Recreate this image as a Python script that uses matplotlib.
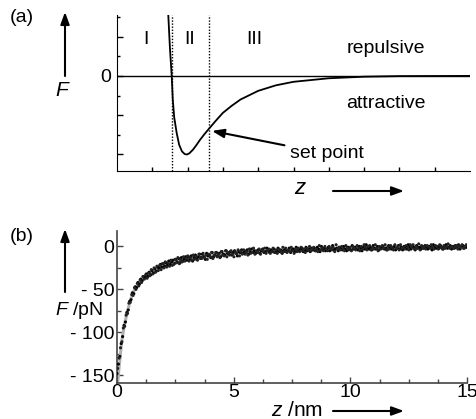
import numpy as np
from matplotlib import pyplot as plt
from matplotlib.ticker import FixedLocator, MultipleLocator

plt.rcParams['font.family'] = ['Liberation Sans', 'DejaVu Sans']
plt.rcParams['mathtext.fontset'] = 'custom'
plt.rcParams['mathtext.rm'] = 'Liberation Sans'
plt.rcParams['mathtext.it'] = 'Liberation Sans:italic'

# panel (a): schematic force-distance curve (arbitrary units)
z_a = [1.40, 1.45, 1.50, 1.55, 1.58, 1.62, 1.69, 1.76, 1.84, 1.92, 1.98,
       2.05, 2.15, 2.25, 2.35, 2.47, 2.60, 2.80, 3.00, 3.25, 3.50, 4.00,
       4.50, 5.00, 6.00, 7.00, 8.00, 10.0]
F_a = [3.0, 1.6, 0.7, 0.0, -0.6, -1.05, -1.45, -1.75, -1.92, -1.99, -2.0,
       -1.97, -1.88, -1.76, -1.63, -1.49, -1.35, -1.14, -0.94, -0.76, -0.60,
       -0.38, -0.24, -0.15, -0.06, -0.02, -0.005, 0.0]
regions = ["I", "II", "III"]
region_x = [0.82, 2.07, 3.88]
bounds = [1.56, 2.61]
set_point = (2.69, -1.40)

# panel (b): measured force (pN) vs distance (nm), two interleaved sweeps
F_b = [
    -148, -137, -128, -113, -105, -92, -88, -77, -74, -64,
    -62, -54, -55, -47, -48, -42, -44, -38, -40, -35,
    -36, -32, -35, -30, -33, -28, -31, -26, -29, -24,
    -25, -21, -24, -20, -23, -19, -22, -17, -21, -18,
    -16, -20, -15, -18, -14, -19, -13, -17, -15, -12,
    -16, -12, -15, -11, -17, -13, -10, -14, -12, -9,
    -13, -9, -12, -15, -8, -11, -10, -13, -7, -12,
    -10, -7, -11, -8, -12, -6, -9, -10, -5, -8,
    -9, -6, -10, -7, -5, -8, -11, -6, -7, -4,
    -8, -5, -7, -4, -9, -6, -3, -7, -5, -8,
    -6, -4, -8, -5, -3, -7, -6, -2, -5, -7,
    -4, -6, -3, -7, -5, -2, -6, -4, -8, -5,
    -3, -6, -5, -2, -7, -4, -3, -6, -1, -5,
    -5, -3, -2, -6, -4, -1, -5, -3, -6, -2,
    -4, -2, -5, -1, -3, -6, 0, -4, -2, -5,
    -3, -1, -5, -2, 1, -4, -3, -2, -5, -1,
    -2, -4, 0, -3, -5, -1, -2, -4, 1, -3,
    -1, -3, -4, 0, -2, -5, -1, -3, 2, -2,
    -3, -1, -4, 1, -2, -3, 0, -4, -1, -2,
    0, -3, -2, -4, 1, -1, -3, -2, 0, -4,
    -2, 1, -3, -1, -4, 0, -2, -3, 2, -1,
    -3, 0, -1, -4, 1, -2, -1, -3, 0, -2,
    1, -2, -3, 0, -1, -4, 2, -1, -2, 0,
    -2, 1, -1, -3, 0, 2, -2, -1, 1, -3,
    0, -2, 1, -1, 2, -3, 0, 1, -2, 0,
    -1,
]
F_b2 = [
    -142, -130, -118, -111, -95, -93, -80, -78, -66, -65,
    -56, -57, -48, -50, -43, -46, -39, -42, -35, -38,
    -33, -37, -31, -34, -27, -32, -25, -30, -23, -28,
    -22, -27, -20, -25, -18, -24, -19, -23, -16, -22,
    -21, -15, -19, -13, -20, -16, -18, -12, -17, -14,
    -11, -17, -13, -16, -10, -15, -12, -16, -9, -14,
    -14, -8, -13, -10, -15, -9, -12, -7, -14, -10,
    -7, -12, -9, -13, -6, -10, -11, -5, -12, -7,
    -10, -5, -9, -12, -6, -8, -4, -11, -6, -9,
    -4, -9, -6, -10, -3, -8, -7, -2, -9, -5,
    -7, -3, -9, -4, -6, -2, -8, -5, -3, -8,
    -6, -2, -7, -4, -8, -3, -5, -7, -1, -6,
    -2, -7, -4, -6, -1, -5, -8, -3, -6, -2,
    -6, -1, -5, -3, -7, -2, -4, 0, -5, -3,
    -1, -5, -3, -6, 1, -4, -2, -5, 0, -3,
    -5, 0, -2, -4, -1, -6, 2, -3, -1, -4,
    0, -3, -5, 1, -2, -4, -1, -5, 0, -2,
    -4, 1, -2, -5, 0, -3, 2, -1, -4, 0,
    1, -4, -1, -3, 2, -2, -5, 0, -3, 1,
    -2, 2, -4, 0, -3, 1, -1, -4, 2, -2,
    0, -4, 2, -2, -1, -3, 1, -1, -4, 2,
    -1, 2, -3, 0, -2, 3, -4, 1, -2, 0,
    -3, 1, 0, -2, 2, -1, -3, 1, 0, -3,
    2, -1, -3, 1, -2, 0, 3, -2, 0, -1,
    -2, 1, 0, -3, 1, -1, 2, -2, 0, 2,
]
z_b = np.linspace(0, 15, len(F_b))
z_b2 = np.linspace(0.03, 14.97, len(F_b2))
z_fit = [0.03, 0.1, 0.2, 0.3, 0.41, 0.55, 0.7, 0.9, 1.13, 1.5, 2.0, 2.5,
         3.0, 4.0, 5.0, 6.0, 8.0, 10.0, 12.0, 15.0]
F_fit = [-158, -138, -111, -94, -80, -65, -53, -44, -37, -29, -22, -18,
         -14.5, -10.5, -8, -6.2, -4.2, -3, -2.2, -1.5]

W, H = 477, 419
FS = 14


def px(x, y):
    return x / W, 1 - y / H


fig = plt.figure(figsize=(W / 100, H / 100), dpi=100)
arrow_kw = dict(arrowstyle="-|>,head_length=0.6,head_width=0.22", color="black",
                lw=1.5, mutation_scale=12, shrinkA=0, shrinkB=0)

# ---- (a)
ax1 = fig.add_axes([117 / W, 1 - 171 / H, 353 / W, 156 / H])
ax1.plot(z_a, F_a, color="black", lw=1.3)
ax1.axhline(0, color="black", lw=1)
for b in bounds:
    ax1.axvline(b, color="black", lw=1, ls=(0, (1, 1.2)))
ax1.set_xlim(0, 10)
ax1.set_ylim(-2.42, 1.55)
for s in ("top", "right"):
    ax1.spines[s].set_visible(False)
ax1.set_xticks(range(1, 10))
ax1.set_xticklabels([])
ax1.set_yticks([-2, -1, 0, 1])
ax1.set_yticklabels(["", "", "0", ""], fontsize=FS)
ax1.yaxis.set_minor_locator(FixedLocator([-1.5, -0.5, 0.5, 1.5]))
ax1.tick_params(direction="in", length=4, width=1, pad=4)
ax1.tick_params(which="minor", direction="in", length=2.5, width=1)
ax1.tick_params(axis="x", length=3)

for lab, x in zip(regions, region_x):
    ax1.text(x, 0.92, lab, fontsize=FS, ha="center", va="center")
ax1.text(7.62, 0.71, "repulsive", fontsize=FS, ha="center", va="center")
ax1.text(7.62, -0.71, "attractive", fontsize=FS, ha="center", va="center")
ax1.annotate("set point", xy=set_point, xytext=(4.9, -1.98),
             fontsize=FS, ha="left", va="center",
             arrowprops=dict(arrow_kw, shrinkA=2))

fig.text(*px(10, 17), "(a)", fontsize=FS, ha="left", va="center")
fig.text(*px(63, 91), "$F$", fontsize=FS + 1, ha="center", va="center")
fig.text(*px(300, 189), "$z$", fontsize=FS + 2, ha="center", va="center")
ax1.annotate("", xy=px(65, 12), xytext=px(65, 76), xycoords="figure fraction",
             textcoords="figure fraction", arrowprops=arrow_kw)
ax1.annotate("", xy=px(404, 191), xytext=px(333, 191), xycoords="figure fraction",
             textcoords="figure fraction", arrowprops=arrow_kw)

# ---- (b)
ax2 = fig.add_axes([117 / W, 1 - 383 / H, 350 / W, 152 / H])
ax2.plot(z_fit, F_fit, color="#b0b0b0", lw=2.2, zorder=2)
ax2.scatter(z_b, F_b, s=5, color="black", edgecolors="none", zorder=3)
ax2.scatter(z_b2, F_b2, s=5, color="#222222", edgecolors="none", zorder=3)
ax2.set_xlim(0, 15)
ax2.set_ylim(-159, 18)
for s in ("top", "right"):
    ax2.spines[s].set_visible(False)
for s in ("left", "bottom"):
    ax2.spines[s].set_color("#444444")
    ax2.spines[s].set_linewidth(1.2)
ax2.set_xticks([0, 5, 10, 15])
ax2.set_xticklabels(["0", "5", "10", "15"], fontsize=FS)
ax2.xaxis.set_minor_locator(MultipleLocator(1.25))
ax2.set_yticks([-150, -100, -50, 0])
ax2.set_yticklabels(["- 150", "- 100", "- 50", "0"], fontsize=FS)
ax2.yaxis.set_minor_locator(FixedLocator([-125, -75, -25]))
ax2.tick_params(direction="in", length=4, width=1, pad=2, color="#444444")
ax2.tick_params(which="minor", direction="in", length=3, width=1, color="#444444")
ax2.tick_params(axis="x", pad=1)

fig.text(*px(10, 236), "(b)", fontsize=FS, ha="left", va="center")
fig.text(*px(79, 310), "$F$ /pN", fontsize=FS, ha="center", va="center")
fig.text(*px(297, 410), "$z$ /nm", fontsize=FS + 1, ha="center", va="center")
ax2.annotate("", xy=px(65, 229), xytext=px(65, 292), xycoords="figure fraction",
             textcoords="figure fraction", arrowprops=arrow_kw)
ax2.annotate("", xy=px(404, 411), xytext=px(333, 411), xycoords="figure fraction",
             textcoords="figure fraction", arrowprops=arrow_kw)

fig.savefig("out.png", dpi=100)
